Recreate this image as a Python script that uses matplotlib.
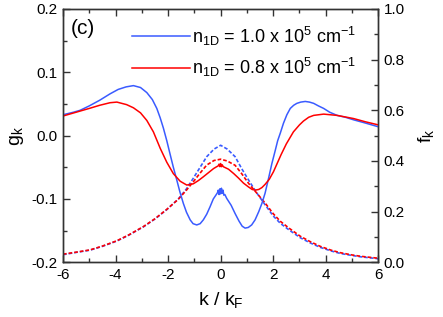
import matplotlib
matplotlib.use("Agg")
import matplotlib.pyplot as plt
from matplotlib.ticker import MultipleLocator

plt.rcParams['font.family'] = ['Liberation Sans', 'DejaVu Sans']
plt.rcParams['mathtext.fontset'] = 'custom'
plt.rcParams['mathtext.rm'] = 'Liberation Sans'
plt.rcParams['mathtext.it'] = 'Liberation Sans'

# g_k, n1D = 1.0e5 cm^-1 (solid blue, left axis)
k_g1 = [-6.0, -5.6, -5.35, -5.0, -4.6, -4.21, -3.9, -3.6, -3.32, -3.05, -2.81, -2.6,
        -2.43, -2.3, -2.18, -2.05, -1.92, -1.8, -1.67, -1.55, -1.42, -1.3, -1.16,
        -1.05, -0.91, -0.78, -0.66, -0.53, -0.4, -0.28, -0.15, -0.12, -0.09, -0.06,
        -0.03, 0.0, 0.03, 0.06, 0.09, 0.12, 0.16, 0.23, 0.4, 0.55, 0.7, 0.82, 0.93,
        1.05, 1.18, 1.31, 1.45, 1.57, 1.69, 1.82, 1.95, 2.08, 2.17, 2.27, 2.39, 2.52,
        2.65, 2.78, 2.9, 3.05, 3.22, 3.38, 3.54, 3.72, 3.92, 4.15, 4.43, 4.75, 5.06,
        5.5, 6.0]
g1 = [0.033, 0.037, 0.040, 0.047, 0.056, 0.066, 0.073, 0.077, 0.079, 0.076, 0.068, 0.057,
      0.043, 0.028, 0.012, -0.008, -0.030, -0.050, -0.070, -0.089, -0.107, -0.121, -0.133,
      -0.139, -0.141, -0.139, -0.133, -0.124, -0.112, -0.100, -0.092, -0.090, -0.086, -0.093,
      -0.084, -0.092, -0.083, -0.091, -0.086, -0.094, -0.093, -0.099, -0.110, -0.123, -0.135, -0.143, -0.146,
      -0.145, -0.141, -0.133, -0.120, -0.107, -0.091, -0.068, -0.044, -0.023, -0.008, 0.004, 0.0195, 0.033,
      0.043, 0.048, 0.051, 0.053, 0.054, 0.053, 0.051, 0.047, 0.043, 0.037, 0.032, 0.029, 0.025,
      0.020, 0.014]

# g_k, n1D = 0.8e5 cm^-1 (solid red, left axis)
k_g2 = [-6.0, -5.5, -5.0, -4.6, -4.21, -3.95, -3.58, -3.32, -3.05, -2.81, -2.56,
        -2.3, -2.05, -1.8, -1.54, -1.29, -1.04, -0.85, -0.66, -0.45, -0.27,
        -0.15, -0.1, -0.06, -0.03, 0.0, 0.03, 0.06, 0.1, 0.15, 0.3, 0.5, 0.68, 0.87,
        1.06, 1.2, 1.31, 1.45, 1.57, 1.69, 1.85, 2.01, 2.15, 2.3, 2.5, 2.77, 3.0,
        3.15, 3.35, 3.54, 3.92, 4.43, 5.06, 5.5, 6.0]
g2 = [0.031, 0.037, 0.043, 0.048, 0.052, 0.053, 0.049, 0.044, 0.036, 0.024, 0.006,
      -0.020, -0.042, -0.060, -0.072, -0.078, -0.076, -0.071, -0.065, -0.058, -0.052,
      -0.049, -0.048, -0.045, -0.049, -0.044, -0.049, -0.046, -0.049, -0.050, -0.053, -0.060, -0.067, -0.075,
      -0.081, -0.085, -0.086, -0.085, -0.082, -0.077, -0.069, -0.057, -0.044, -0.030, -0.013, 0.006, 0.017,
      0.023, 0.029, 0.032, 0.034, 0.032, 0.027, 0.022, 0.017]

# f_k (dashed, right axis)
k_f = [-6.0, -5.5, -4.97, -4.5, -3.95, -3.5, -2.94, -2.5, -2.05, -1.61, -1.3, -1.04,
       -0.8, -0.53, -0.25, 0.0, 0.25, 0.55, 0.8, 1.06, 1.4, 1.7, 2.0, 2.27, 2.6,
       3.03, 3.4, 3.79, 4.2, 4.55, 5.0, 5.31, 6.0]
f1 = [0.030, 0.039, 0.048, 0.063, 0.084, 0.107, 0.140, 0.171, 0.208, 0.250, 0.290, 0.332,
      0.372, 0.417, 0.447, 0.462, 0.447, 0.417, 0.370, 0.325, 0.270, 0.226, 0.183, 0.154, 0.128,
      0.097, 0.077, 0.059, 0.045, 0.035, 0.027, 0.022, 0.014]
f2 = [0.032, 0.040, 0.049, 0.064, 0.085, 0.108, 0.141, 0.172, 0.209, 0.249, 0.285, 0.318,
      0.350, 0.384, 0.402, 0.407, 0.400, 0.383, 0.350, 0.312, 0.270, 0.233, 0.192, 0.162, 0.135,
      0.103, 0.082, 0.063, 0.048, 0.038, 0.029, 0.024, 0.016]

labels = [r'n$_{\mathrm{1D}}$ = 1.0 x 10$^{\mathrm{5}}$ cm$^{\mathrm{-1}}$',
          r'n$_{\mathrm{1D}}$ = 0.8 x 10$^{\mathrm{5}}$ cm$^{\mathrm{-1}}$']

BLUE = '#3a5bff'
RED = '#ff0000'

fig = plt.figure(figsize=(4.43, 3.17), dpi=100)
ax = fig.add_axes([63/443, 1-262.3/317, (378.3-63)/443, (262.3-9)/317])
ax2 = ax.twinx()

ax2.plot(k_f, f1, color=BLUE, lw=1.2, ls=(0, (2.2, 1.2)))
ax2.plot(k_f, f2, color=RED, lw=1.2, ls=(0, (2.2, 1.2)))
ax.plot(k_g1, g1, color=BLUE, lw=1.1, label=labels[0])
ax.plot(k_g2, g2, color=RED, lw=1.1, label=labels[1])
ax.set_zorder(ax2.get_zorder() + 1)
ax.patch.set_visible(False)

ax.set_xlim(-6, 6)
ax.set_ylim(-0.2, 0.2)
ax2.set_ylim(0, 1.0)
ax.xaxis.set_minor_locator(MultipleLocator(1))
ax.yaxis.set_minor_locator(MultipleLocator(0.05))
ax2.yaxis.set_major_locator(MultipleLocator(0.2))
ax2.yaxis.set_minor_locator(MultipleLocator(0.1))
ax.set_yticks([-0.2, -0.1, 0.0, 0.1, 0.2])
ax.set_yticklabels(['-0.2', '-0.1', '0.0', '0.1', '0.2'])
ax.set_xticks([-6, -4, -2, 0, 2, 4, 6])
ax.set_xticklabels(['-6', '-4', '-2', '0', '2', '4', '6'])

for a in (ax, ax2):
    for s in a.spines.values():
        s.set_color('#333333')
        s.set_linewidth(1.0)
ax.tick_params(which='both', direction='in', top=True, right=False, labelsize=11, colors='#333333', labelcolor='black', pad=4)
ax.tick_params(which='major', length=5, width=1.0)
ax.tick_params(which='minor', length=3, width=1.0)
ax2.tick_params(which='both', direction='in', labelsize=11, colors='#333333', labelcolor='black', pad=4)
ax2.tick_params(which='major', length=5, width=1.0)
ax2.tick_params(which='minor', length=3, width=1.0)

ax.set_xlabel(r'k / k$_{\mathrm{F}}$', fontsize=14, labelpad=6)
ax.set_ylabel(r'g$_{\mathrm{k}}$', fontsize=14, labelpad=4)
ax2.set_ylabel(r'f$_{\mathrm{k}}$', fontsize=14, labelpad=8)

ax.text(0.025, 0.96, '(c)', transform=ax.transAxes, fontsize=15, va='top', ha='left')
ax.legend(loc='upper right', bbox_to_anchor=(0.975, 0.995), frameon=False, fontsize=13,
          handlelength=3.2, handletextpad=0.12, labelspacing=0.45, borderpad=0.3)

fig.savefig('out.png', dpi=100)
